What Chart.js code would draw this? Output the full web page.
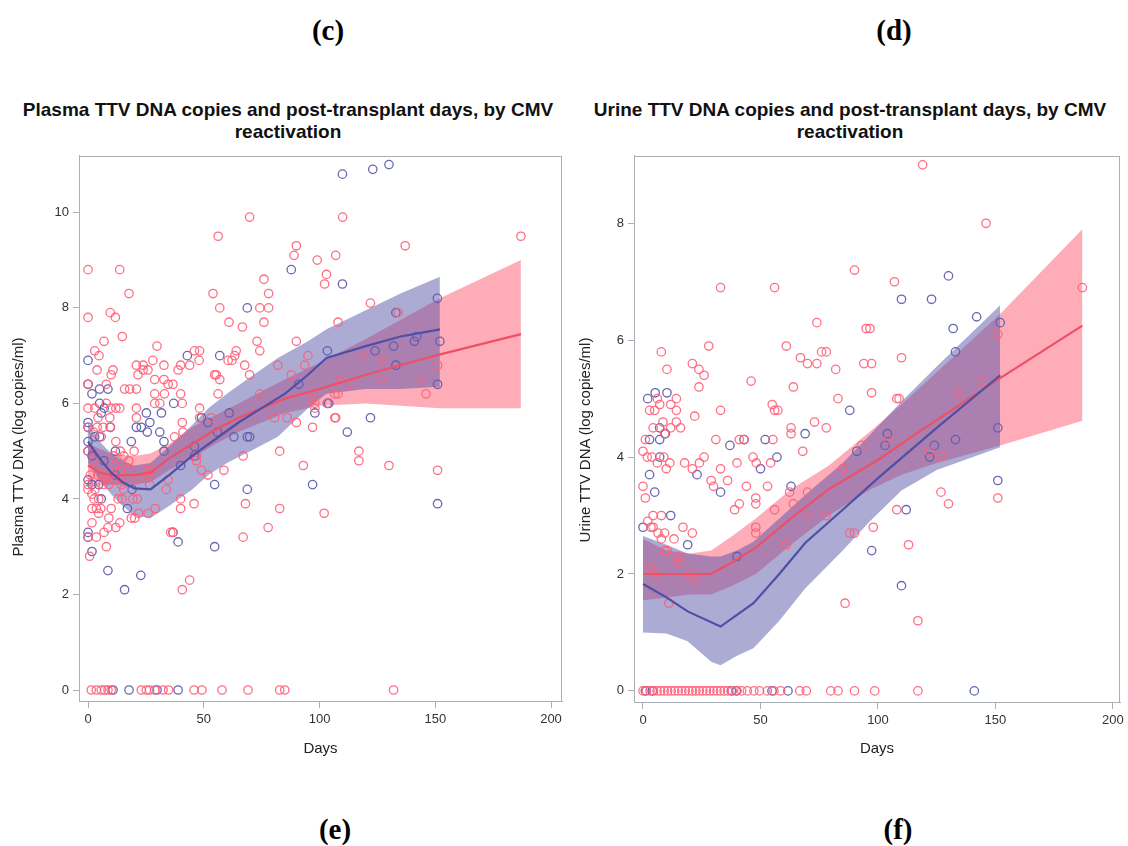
<!DOCTYPE html>
<html>
<head>
<meta charset="utf-8">
<script src="https://cdn.jsdelivr.net/npm/chart.js@4.4.1/dist/chart.umd.min.js"></script>
<style>
  html,body{margin:0;padding:0;background:#fff;}
  body{width:1128px;height:846px;position:relative;overflow:hidden;font-family:"Liberation Sans",Arial,sans-serif;}
  .panel{position:absolute;font-family:"Liberation Serif","Times New Roman",serif;font-weight:bold;font-size:29px;color:#000;text-align:center;width:80px;line-height:34px;}
  .title{position:absolute;font-weight:bold;font-size:19px;line-height:22px;text-align:center;color:#111;}
  .ytitle{position:absolute;width:300px;height:20px;line-height:20px;font-size:15px;color:#222;text-align:center;transform:rotate(-90deg);transform-origin:150px 10px;}
  .box{position:absolute;}
</style>
</head>
<body>
<div class="panel" style="left:288px;top:13px;">(c)</div>
<div class="panel" style="left:854px;top:13px;">(d)</div>
<div class="panel" style="left:295px;top:812px;">(e)</div>
<div class="panel" style="left:858px;top:812px;">(f)</div>
<div class="title" style="left:0px;top:99px;width:576px;">Plasma TTV DNA copies and post-transplant days, by CMV<br>reactivation</div>
<div class="title" style="left:566px;top:99px;width:568px;">Urine TTV DNA copies and post-transplant days, by CMV<br>reactivation</div>
<div class="box" style="left:0px;top:150px;width:570px;height:610px;"><canvas id="c1"></canvas></div>
<div class="box" style="left:570px;top:150px;width:558px;height:610px;"><canvas id="c2"></canvas></div>
<div class="ytitle" style="left:-132px;top:437px;">Plasma TTV DNA (log copies/ml)</div>
<div class="ytitle" style="left:435px;top:430px;">Urine TTV DNA (log copies/ml)</div>
<script>
// ---------- tick labels ----------
const dayTicks = [0, 50, 100, 150, 200];
const plasmaTicks = [0, 2, 4, 6, 8, 10];
const urineTicks = [0, 2, 4, 6, 8];

// ---------- plasma scatter: [day, log copies/ml] ----------
const plasmaNoCMV = [
 [0,8.8],[13.7,8.8],[17.7,8.3],[0,7.8],[9.6,7.9],[11.8,7.8],[14.8,7.4],[6.9,7.3],[2.9,7.1],[4.75,7.0],[29.8,7.2],[3.9,6.7],[10,6.6],[10.8,6.7],[0,6.4],[7.9,6.4],[15.8,6.3],[18,6.3],[20.9,6.3],
 [20.9,6.8],[23.8,6.8],[25.9,6.7],[28,6.9],[21.6,6.6],[23.8,6.7],[32.8,6.8],[28.8,6.5],[32.8,6.5],[34.6,6.4],[36.7,6.4],[28.8,6.2],[33,6.2],[31,6.0],[28.8,6.0],[40,6.2],[40.7,6.0],[38.9,6.7],[40,6.8],[43.9,6.8],
 [46,7.1],[48.2,7.1],[48,6.9],[54,8.3],[56.2,9.5],[56.9,8.0],[60.9,7.7],[66.7,7.6],[69.8,9.9],[54.7,6.6],[55.4,6.6],[56.9,6.5],[56.2,6.2],[60.5,6.9],[62.2,6.9],[64,7.1],[63.4,7.0],[67.7,6.8],[69.8,6.6],
 [73,7.3],[74.2,7.1],[76,7.7],[76,8.6],[74.2,8.0],[78,8.3],[78,8.0],[90,9.3],[89,9.1],[99,9.0],[103,8.7],[102.2,8.5],[90,7.3],[82,6.8],[95,7.0],[87.8,6.6],[74.2,6.2],[97,6.1],[98,6.0],[98,5.9],[97,5.5],
 [80.6,5.7],[86,5.7],[90,5.6],[40.7,5.6],[48.2,5.9],[48.2,5.7],[53.3,5.7],[20.9,5.7],[20.9,5.9],[12,5.9],[13.7,5.9],[9.8,5.9],[7.9,6.0],[2.9,5.9],[0,5.9],[4.3,5.7],[9.4,5.7],
 [0,5.5],[2.4,5.4],[4,5.5],[6.5,5.5],[9.7,5.5],[5.7,5.3],[12,5.2],[14,5.0],[15.5,4.9],[11,4.9],[0,5.0],[2.4,4.8],[5,4.7],[1,4.5],[4.3,4.5],[7.9,4.4],[11.5,4.4],[14.2,4.4],[0,4.3],[3,4.2],[6.5,4.3],[9,4.3],[17.3,4.6],[20.9,4.4],[25.9,4.5],[26.6,4.3],
 [82.8,5.0],[93,4.7],[67,4.9],[58.7,4.6],[51.8,4.5],[49,4.6],[46.8,4.9],[46.8,4.8],[34.6,4.4],[33.8,4.2],[40,4.0],[40,3.8],[45.8,3.9],[68,3.9],[82.8,3.8],[102,3.7],[77.8,3.4],[67,3.2],[35.7,3.3],[36.7,3.3],[43.9,2.3],[40.7,2.1],
 [19.4,4.0],[21.3,4.0],[18.7,3.6],[20.2,3.6],[26,3.7],[29,3.8],[21.9,3.7],[0.7,2.8],[7.9,3.0],[0,3.2],[3.6,3.2],[6.9,3.3],[8.6,3.4],[12,3.4],[13.7,3.5],[1.7,3.5],[9,3.6],[4.6,3.7],[1.7,3.8],[3.6,3.8],[5.5,3.8],[10,3.8],
 [13,4.0],[14.7,4.0],[4.6,4.0],[2.6,4.0],[0,4.2],[1.7,4.1],[14.4,4.3],[15.4,4.2],[17.6,4.8],[11.8,4.7],[14,4.6],[10,4.5],[5.7,4.5],[19.9,5.0],[27,4.6],[25.6,4.6],[41,5.4],[37.4,5.3],
 [110,9.9],[187,9.5],[137,9.3],[107,9.1],[122,8.1],[134,7.9],[108,7.7],[119,7.0],[127,6.9],[151,6.8],[109,6.5],[113,6.4],[127,6.5],[144,6.5],[108,6.2],[146,6.2],[107,5.7],[117,5.0],[117,4.8],[130,4.7],[151,4.6],[132,0],
 [93.6,6.8],[103.4,6.0],[106.6,6.2],[106.6,5.7],
 [1.4,0],[3.6,0],[5.7,0],[7.2,0],[8.6,0],[10,0],[23,0],[25.2,0],[26.6,0],[28.8,0],[32.4,0],[34.8,0],[45.8,0],[49.2,0],[57.9,0],[69.1,0],[82.8,0],[85,0]
];
const plasmaCMV = [
 [0,6.9],[42.9,7.0],[56.9,7.0],[68.8,8.0],[87.8,8.8],[0,6.4],[1.7,6.2],[5,6.3],[8.6,6.3],[5,6.0],[7,5.9],[5.7,5.8],[37,6.0],[31.7,5.8],[25.2,5.8],[20.9,5.5],[23,5.5],[26.7,5.6],[9.6,5.5],[0,5.5],[61,5.8],[91,6.4],[98,5.8],[103.4,7.1],[103.4,6.0],[51.8,5.6],[49,5.7],
 [109.9,10.8],[123,10.9],[130,11.0],[109.9,8.5],[150.9,8.2],[133,7.9],[124,7.1],[132,7.2],[141,7.3],[142,7.4],[152,7.3],[133,6.8],[151,6.4],[104,6.0],[122,5.7],[112,5.4],[151,3.9],
 [97,4.3],[68.8,4.2],[54.7,4.3],[54.7,3.0],[36.7,3.3],[38.9,3.1],[22.8,2.4],[15.8,2.1],[8.6,2.5],[1.7,2.9],[0,3.3],[0,3.2],[5.7,4.0],[17,3.8],[19,4.2],[0,4.4],[1.7,4.3],[4.6,4.3],[11.8,4.5],[6.9,4.8],[1.7,4.9],[0,5.0],[0,5.2],[2.9,5.3],[5,5.3],[0,5.6],
 [11.8,5.0],[18.7,5.2],[25.6,5.4],[31,5.4],[32.8,5.2],[32.8,5.0],[40,4.7],[46,5.1],[46,4.9],[55.9,5.4],[63,5.3],[68.8,5.3],[69.8,5.3],
 [10.8,0],[17.7,0],[29.8,0],[38.9,0]
];
// ---------- plasma fitted curves and 95% bands ----------
const plasmaNoFitDays = [0,5,10,20,27,35,45,55,65,75,85,100,120,150,187];
const plasmaNoFit     = [4.7,4.55,4.5,4.5,4.55,4.85,5.15,5.45,5.7,5.9,6.1,6.3,6.6,7.0,7.45];
const plasmaNoBandDays = [0,10,20,27,35,45,55,65,75,85,100,120,152,187];
const plasmaNoUpper    = [5.15,4.95,4.9,4.95,5.15,5.5,5.75,6.0,6.25,6.5,6.85,7.35,8.2,9.0];
const plasmaNoLower    = [4.25,4.3,4.3,4.35,4.6,4.85,5.15,5.4,5.6,5.8,5.95,6.0,5.9,5.9];
const plasmaCmvFitDays = [0,5,10,15,20,27,35,45,55,65,75,85,95,103,120,135,152];
const plasmaCmvFit     = [5.2,4.85,4.55,4.35,4.22,4.2,4.5,4.9,5.25,5.6,5.9,6.2,6.6,6.95,7.2,7.4,7.55];
const plasmaCmvBandDays = [0,5,10,15,20,27,35,45,52,60,70,82,95,103,120,135,152];
const plasmaCmvUpper    = [5.6,5.2,4.95,4.8,4.7,4.75,5.1,5.55,5.9,6.2,6.55,6.95,7.3,7.55,7.95,8.3,8.65];
const plasmaCmvLower    = [4.75,4.4,4.1,3.85,3.65,3.6,3.85,4.2,4.5,4.75,5.0,5.3,5.9,6.2,6.3,6.3,6.35];

// ---------- urine scatter ----------
const urineNoCMV = [
 [90,7.2],[119,9.0],[146,8.0],[107,7.0],[187,6.9],[151,6.1],[110,5.7],[97.3,5.6],[96.6,6.2],[144,5.3],[134,5.1],[97.3,5.1],[108,5.0],[109,5.0],
 [104.4,4.3],[122,4.1],[126.8,4.0],[151,3.3],[126.8,3.4],[130,3.2],[108,3.1],[98,2.8],[113,2.5],[117,1.2],
 [33,6.9],[56,6.9],[74,6.3],[95,6.2],[7.8,5.8],[28,5.9],[61,5.9],[76,5.8],[78,5.8],[67,5.7],[70,5.6],[74,5.6],[82,5.5],[94,5.6],[10.2,5.5],[21,5.6],[23.8,5.5],[26,5.4],[23.8,5.2],[46,5.3],[64,5.2],[83,5.0],
 [6.1,5.0],[7.1,4.9],[14.2,5.0],[11.8,4.9],[14.2,4.8],[2.8,4.8],[5,4.8],[22,4.7],[33,4.8],[55,4.9],[56,4.8],[57.4,4.8],[73,4.6],[78,4.5],[63,4.5],[63,4.4],[14.2,4.6],[4.3,4.5],[11.8,4.5],[16,4.5],[8.5,4.6],[9.2,4.4],
 [1,4.3],[31,4.3],[41,4.3],[43,4.3],[55.3,4.3],[68,4.1],[0,4.1],[1.8,4.0],[3.8,4.0],[6.1,3.9],[8.9,4.0],[11.4,3.9],[9.9,3.8],[17.7,3.9],[21,3.8],[24,3.9],[26,4.0],[33,3.8],[40,3.9],[46.8,4.0],[48.2,3.9],[54.3,3.9],
 [0,3.5],[1,3.3],[29,3.6],[30,3.5],[36,3.6],[44,3.5],[53,3.5],[62.4,3.4],[64,3.2],[70,3.4],[48,3.3],[48,3.2],[41,3.2],[39,3.1],[56,3.1],[85,3.8],[93,4.2],
 [2,2.9],[4.3,3.0],[7.8,3.0],[3.4,2.8],[4.3,2.8],[6.4,2.7],[9.2,2.7],[7.8,2.6],[9.2,2.4],[10.3,2.4],[17,2.8],[21,2.7],[13.2,2.6],[14.9,2.3],[14.9,2.2],[3.3,2.1],[5,2.0],[19.9,2.0],[22,1.9],[11,1.5],
 [61,2.5],[48,2.8],[48,2.7],[70,3.0],[78,3.0],[88,2.7],[90,2.7],[86,1.5],
 [0,0],[1.5,0],[3,0],[4.5,0],[6,0],[7.5,0],[9,0],[10.5,0],[12,0],[13.5,0],[15,0],[16.5,0],[18,0],[19.5,0],[21,0],[22.5,0],[24,0],[25.5,0],[27,0],[28.5,0],[30,0],[31.5,0],[33,0],[34.5,0],[36,0],[38,0],[40,0],[42,0],
 [44.4,0],[47.2,0],[49.6,0],[52.9,0],[55.7,0],[58.6,0],[66.7,0],[69.5,0],[79.9,0],[83,0],[90,0],[98.6,0],[117,0]
];
const urineCMV = [
 [130,7.1],[110,6.7],[122.8,6.7],[142,6.4],[132,6.2],[152,6.3],[133,5.8],[151,4.5],
 [104,4.4],[103,4.2],[124,4.2],[122,4.0],[133,4.3],[151,3.6],[112,3.1],[97.3,2.4],[110,1.8],[141,0],
 [2,5.0],[5.2,5.1],[10.2,5.1],[7.1,4.5],[9.5,4.4],[7.1,4.3],[2.8,4.3],[7.1,4.0],[2.8,3.7],[5,3.4],[11.8,3.0],[23,3.7],[37,4.2],[43,4.3],[52,4.3],[57,4.0],[50,3.8],[33,3.4],[63,3.5],[69,4.4],[88,4.8],[91,4.1],
 [0,2.8],[19,2.5],[40,2.3],
 [1,0],[4,0],[37.6,0],[39.7,0],[54.9,0],[61.7,0]
];
// ---------- urine fitted curves and 95% bands ----------
const urineNoFitDays = [0,10,20,29,38,48,63,79,100,118,152,187];
const urineNoFit     = [2.0,2.0,2.0,2.0,2.2,2.45,2.95,3.45,3.95,4.45,5.35,6.25];
const urineNoBandDays = [0,10,20,29,38,48,63,79,97,110,125,152,187];
const urineNoUpper    = [2.6,2.4,2.35,2.4,2.65,2.95,3.45,3.85,4.45,4.9,5.45,6.45,7.9];
const urineNoLower    = [1.55,1.6,1.65,1.65,1.8,2.0,2.5,3.0,3.45,3.7,3.9,4.2,4.62];
const urineCmvFitDays = [0,10,19,33,47,58,69,85,100,125,152];
const urineCmvFit     = [1.83,1.6,1.36,1.1,1.5,2.0,2.53,3.1,3.64,4.5,5.4];
const urineCmvBandDays = [0,10,19,29,33,40,47,58,69,85,97,110,125,152];
const urineCmvUpper    = [2.65,2.5,2.35,2.3,2.3,2.4,2.55,2.95,3.35,3.9,4.4,4.95,5.55,6.6];
const urineCmvLower    = [1.0,0.98,0.85,0.5,0.44,0.6,0.73,1.2,1.75,2.4,2.92,3.43,3.78,4.17];

// ---------- styling ----------
const RED_PT = 'rgba(255,95,120,0.9)';
const BLUE_PT = 'rgba(95,95,175,0.95)';
const RED_LINE = '#EE5066';
const BLUE_LINE = '#4F4FA6';
const RED_BAND = 'rgba(255,90,115,0.5)';
const BLUE_BAND = 'rgba(80,80,165,0.48)';
const AXIS_GRAY = '#A8AFB6';
const FONT = '"Liberation Sans", Arial, sans-serif';

const pairs = (d, v) => d.map((x, i) => ({x, y: v[i]}));
const pts = a => a.map(p => ({x: p[0], y: p[1]}));

const framePlugin = {
  id: 'frame',
  afterDatasetsDraw(chart) {
    const a = chart.chartArea, ctx = chart.ctx;
    ctx.save();
    ctx.strokeStyle = AXIS_GRAY;
    ctx.lineWidth = 1;
    ctx.strokeRect(Math.round(a.left) + 0.5, Math.round(a.top) + 0.5, Math.round(a.right - a.left) - 1, Math.round(a.bottom - a.top) - 1);
    ctx.restore();
  }
};

function makeChart(id, cfg) {
  const datasets = [
    {type:'line', data: pairs(cfg.noBandDays, cfg.noUpper), borderWidth:0, pointRadius:0, fill:'+1', backgroundColor: RED_BAND, order: 4},
    {type:'line', data: pairs(cfg.noBandDays, cfg.noLower), borderWidth:0, pointRadius:0, fill:false, order: 4},
    {type:'line', data: pairs(cfg.cmvBandDays, cfg.cmvUpper), borderWidth:0, pointRadius:0, fill:'+1', backgroundColor: BLUE_BAND, order: 3},
    {type:'line', data: pairs(cfg.cmvBandDays, cfg.cmvLower), borderWidth:0, pointRadius:0, fill:false, order: 3},
    {type:'scatter', label:'No CMV reactivation', data: pts(cfg.noPts), pointRadius:4.2, pointBorderWidth:1.3, borderColor: RED_PT, backgroundColor:'rgba(0,0,0,0)', order: 2},
    {type:'scatter', label:'CMV reactivation', data: pts(cfg.cmvPts), pointRadius:4.2, pointBorderWidth:1.3, borderColor: BLUE_PT, backgroundColor:'rgba(0,0,0,0)', order: 2},
    {type:'line', data: pairs(cfg.noFitDays, cfg.noFit), borderColor: RED_LINE, borderWidth:2.2, pointRadius:0, fill:false, order: 1},
    {type:'line', data: pairs(cfg.cmvFitDays, cfg.cmvFit), borderColor: BLUE_LINE, borderWidth:2.2, pointRadius:0, fill:false, order: 0}
  ];
  return new Chart(document.getElementById(id), {
    data: {datasets},
    plugins: [framePlugin],
    options: {
      responsive: true, maintainAspectRatio: false, animation: false,
      layout: {padding: cfg.padding},
      plugins: {legend:{display:false}, tooltip:{enabled:false}, title:{display:false}},
      scales: {
        x: {
          type:'linear', min: cfg.xMin, max: cfg.xMax,
          afterBuildTicks: s => { s.ticks = dayTicks.map(v => ({value:v})); },
          afterFit: s => { s.height = cfg.xH; s.paddingLeft = 0; s.paddingRight = 0; },
          grid: {display:true, drawOnChartArea:false, drawTicks:true, tickLength:7, color: AXIS_GRAY},
          border: {display:true, color: AXIS_GRAY},
          ticks: {color:'#333', font:{family: FONT, size:13}, padding:4, maxRotation:0},
          title: {display:true, text:'Days', color:'#222', font:{family: FONT, size:15}, padding:{top:0, bottom:2}}
        },
        y: {
          type:'linear', min: cfg.yMin, max: cfg.yMax,
          afterBuildTicks: s => { s.ticks = cfg.yTicks.map(v => ({value:v})); },
          afterFit: s => { s.width = cfg.yW; s.paddingTop = 0; s.paddingBottom = 0; },
          grid: {display:true, drawOnChartArea:false, drawTicks:true, tickLength:6, color: AXIS_GRAY},
          border: {display:true, color: AXIS_GRAY},
          ticks: {color:'#333', font:{family: FONT, size:13}, padding:4},
          title: {display:false}
        }
      }
    }
  });
}

makeChart('c1', {
  noPts: plasmaNoCMV, cmvPts: plasmaCMV,
  noFitDays: plasmaNoFitDays, noFit: plasmaNoFit,
  noBandDays: plasmaNoBandDays, noUpper: plasmaNoUpper, noLower: plasmaNoLower,
  cmvFitDays: plasmaCmvFitDays, cmvFit: plasmaCmvFit,
  cmvBandDays: plasmaCmvBandDays, cmvUpper: plasmaCmvUpper, cmvLower: plasmaCmvLower,
  xMin: -3.9, xMax: 204.75, yMin: -0.23, yMax: 11.19, yTicks: plasmaTicks,
  padding: {top:1, right:8, left:0, bottom:0}, xH: 59, yW: 79
});
makeChart('c2', {
  noPts: urineNoCMV, cmvPts: urineCMV,
  noFitDays: urineNoFitDays, noFit: urineNoFit,
  noBandDays: urineNoBandDays, noUpper: urineNoUpper, noLower: urineNoLower,
  cmvFitDays: urineCmvFitDays, cmvFit: urineCmvFit,
  cmvBandDays: urineCmvBandDays, cmvUpper: urineCmvUpper, cmvLower: urineCmvLower,
  xMin: -3.83, xMax: 203, yMin: -0.19, yMax: 9.16, yTicks: urineTicks,
  padding: {top:5, right:8, left:0, bottom:0}, xH: 58, yW: 64
});
</script>
</body>
</html>
